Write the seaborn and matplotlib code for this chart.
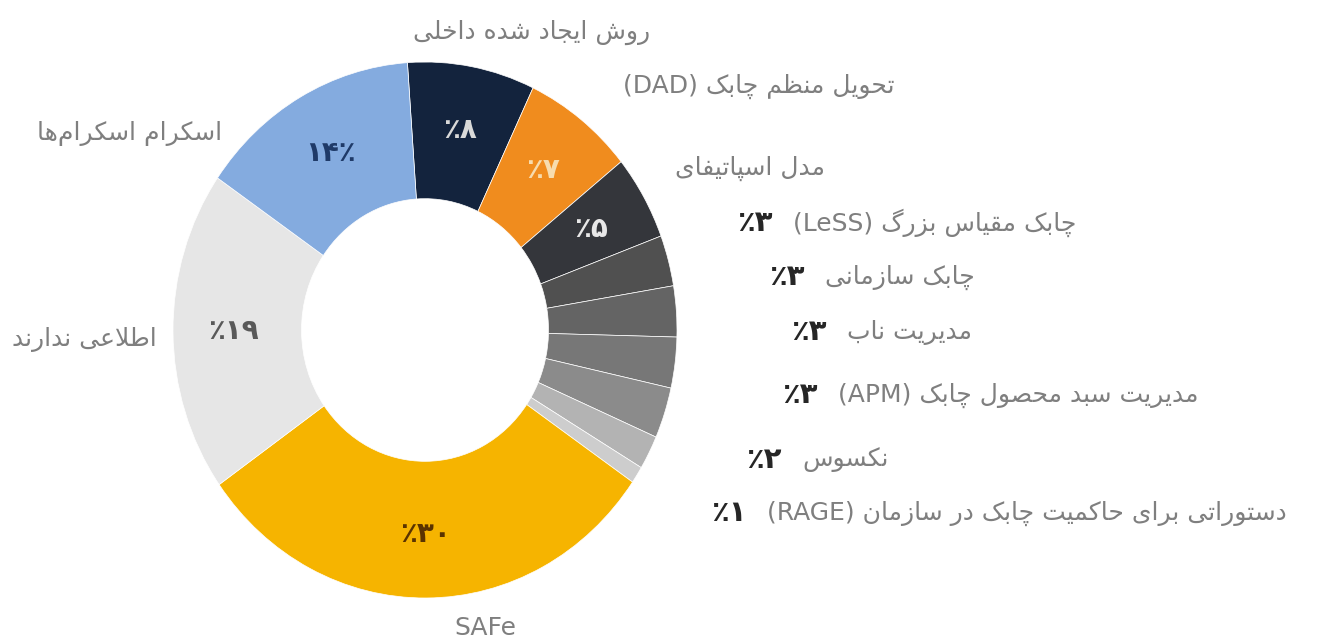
#!/usr/bin/env python3
# -*- coding: utf-8 -*-

"""
نمودار دونات: چارچوب‌های چابکی مقیاس‌پذیر مورد استفاده
"""

import numpy as np
import matplotlib
matplotlib.use("Agg")
import matplotlib.pyplot as plt
import seaborn as sns

# ---- data ----
names = [
    "روش ایجاد شده داخلی",
    "تحویل منظم چابک",
    "مدل اسپاتیفای",
    "چابک مقیاس بزرگ",
    "چابک سازمانی",
    "مدیریت ناب",
    "مدیریت سبد محصول چابک",
    "نکسوس",
    "دستوراتی برای حاکمیت چابک در سازمان",
    "SAFe",
    "اطلاعی ندارند",
    "اسکرام اسکرام‌ها",
]
abbrs = ["", "DAD", "", "LeSS", "", "", "APM", "", "RAGE", "", "", ""]
shares = [8, 7, 5, 3, 3, 3, 3, 2, 1, 30, 19, 14]

# ---- style ----
W, H = 1325, 641
CX, CY, RX, RY = 425, 330, 252, 268   # ring centre / radii in px

colors = ["#13233d", "#f08c1e", "#34363b", "#505050", "#646464", "#777777",
          "#8b8b8b", "#b3b3b3", "#cdcdcd", "#f6b400", "#e6e6e6", "#84abdf"]
inner_txt = ["#d9d9d9", "#f7dcae", "#e8e8e8", None, None, None, None, None,
             None, "#5a3300", "#595959", "#1f3a68"]

# label anchors (px, ref image coords): x, y, ha
label_pos = [
    (532, 32, "center"), (623, 86, "left"), (675, 168, "left"),
    (793, 223, "left"), (825, 277, "left"), (847, 332, "left"),
    (838, 395, "left"), (802, 460, "left"), (767, 513, "left"),
    (485, 628, "center"), (157, 340, "right"), (222, 133, "right"),
]

sns.set_theme(style="white")
plt.rcParams["font.family"] = ["DejaVu Sans"]

# ---- minimal Persian shaping (matplotlib has no complex text layout) ----
FORMS = {
    'ا': ('\ufe8d', '\ufe8e'), 'آ': ('\ufe81', '\ufe82'),
    'د': ('\ufea9', '\ufeaa'), 'ذ': ('\ufeab', '\ufeac'),
    'ر': ('\ufead', '\ufeae'), 'ز': ('\ufeaf', '\ufeb0'),
    'ژ': ('\ufb8a', '\ufb8b'), 'و': ('\ufeed', '\ufeee'),
    'ب': ('\ufe8f', '\ufe90', '\ufe91', '\ufe92'),
    'پ': ('\ufb56', '\ufb57', '\ufb58', '\ufb59'),
    'ت': ('\ufe95', '\ufe96', '\ufe97', '\ufe98'),
    'ث': ('\ufe99', '\ufe9a', '\ufe9b', '\ufe9c'),
    'ج': ('\ufe9d', '\ufe9e', '\ufe9f', '\ufea0'),
    'چ': ('\ufb7a', '\ufb7b', '\ufb7c', '\ufb7d'),
    'ح': ('\ufea1', '\ufea2', '\ufea3', '\ufea4'),
    'خ': ('\ufea5', '\ufea6', '\ufea7', '\ufea8'),
    'س': ('\ufeb1', '\ufeb2', '\ufeb3', '\ufeb4'),
    'ش': ('\ufeb5', '\ufeb6', '\ufeb7', '\ufeb8'),
    'ص': ('\ufeb9', '\ufeba', '\ufebb', '\ufebc'),
    'ض': ('\ufebd', '\ufebe', '\ufebf', '\ufec0'),
    'ط': ('\ufec1', '\ufec2', '\ufec3', '\ufec4'),
    'ظ': ('\ufec5', '\ufec6', '\ufec7', '\ufec8'),
    'ع': ('\ufec9', '\ufeca', '\ufecb', '\ufecc'),
    'غ': ('\ufecd', '\ufece', '\ufecf', '\ufed0'),
    'ف': ('\ufed1', '\ufed2', '\ufed3', '\ufed4'),
    'ق': ('\ufed5', '\ufed6', '\ufed7', '\ufed8'),
    'ک': ('\ufb8e', '\ufb8f', '\ufb90', '\ufb91'),
    'گ': ('\ufb92', '\ufb93', '\ufb94', '\ufb95'),
    'ل': ('\ufedd', '\ufede', '\ufedf', '\ufee0'),
    'م': ('\ufee1', '\ufee2', '\ufee3', '\ufee4'),
    'ن': ('\ufee5', '\ufee6', '\ufee7', '\ufee8'),
    'ه': ('\ufee9', '\ufeea', '\ufeeb', '\ufeec'),
    'ی': ('\ufbfc', '\ufbfd', '\ufbfe', '\ufbff'),
}
LAM_ALEF = {'ا': ('\ufefb', '\ufefc'), 'آ': ('\ufef5', '\ufef6')}


def joins_next(c):
    return c in FORMS and len(FORMS[c]) == 4


def shape_fa(text):
    """شکل‌دهی حروف و معکوس کردن برای نمایش راست به چپ"""
    out = []
    i, n = 0, len(text)
    while i < n:
        c = text[i]
        link_prev = i > 0 and joins_next(text[i - 1])
        if c == 'ل' and i + 1 < n and text[i + 1] in LAM_ALEF:
            out.append(LAM_ALEF[text[i + 1]][1 if link_prev else 0])
            i += 2
            continue
        if c not in FORMS:
            if c != '\u200c':
                out.append(c)
            i += 1
            continue
        link_next = joins_next(c) and i + 1 < n and text[i + 1] in FORMS
        f = FORMS[c]
        if link_prev and link_next:
            out.append(f[3])
        elif link_prev:
            out.append(f[1])
        elif link_next:
            out.append(f[2])
        else:
            out.append(f[0])
        i += 1
    return ''.join(reversed(out))


def visual_label(name, abbr):
    if name.isascii():
        return name
    if abbr:
        return f"({abbr}) " + shape_fa(name)
    return shape_fa(name)


FA_DIGITS = str.maketrans('0123456789', '۰۱۲۳۴۵۶۷۸۹')


def pct_text(v, sign_after=False):
    d = str(v).translate(FA_DIGITS)
    return d + '٪' if sign_after else '٪' + d


# ---- figure ----
fig = plt.figure(figsize=(W / 100, H / 100), dpi=100)
ax = fig.add_axes([0, 0, 1, 1])
wedges, _ = ax.pie(shares, colors=colors, startangle=94, counterclock=False,
                   wedgeprops=dict(width=0.51, edgecolor="white", linewidth=0.5))
ax.set_aspect("auto")
ax.set_xlim(-CX / RX, (W - CX) / RX)
ax.set_ylim(-(H - CY) / RY, CY / RY)
ax.axis("off")

# درصدهای داخل حلقه
for i, (w, v) in enumerate(zip(wedges, shares)):
    if inner_txt[i] is None:
        continue
    ang = np.deg2rad((w.theta1 + w.theta2) / 2)
    ax.text(0.76 * np.cos(ang), 0.76 * np.sin(ang),
            pct_text(v, sign_after=(names[i].startswith("اسکرام"))),
            ha="center", va="center", fontsize=20, fontweight="bold",
            color=inner_txt[i])

# برچسب‌های بیرونی
for i, (x, y, ha) in enumerate(label_pos):
    fx, fy = x / W, 1 - y / H
    fig.text(fx, fy, visual_label(names[i], abbrs[i]), ha=ha, va="center",
             fontsize=18, color="#7f7f7f")
    if inner_txt[i] is None:
        fig.text(fx - 20 / W, fy, pct_text(shares[i]), ha="right",
                 va="center", fontsize=21, fontweight="bold", color="#262626")

fig.savefig("out.png", dpi=100)
